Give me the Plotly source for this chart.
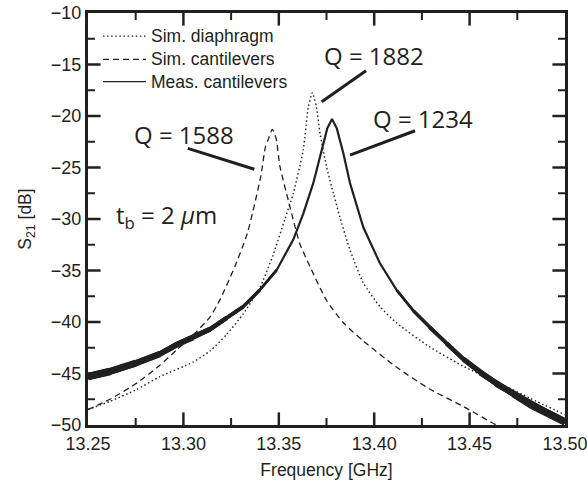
import plotly.graph_objects as go

# ---------------- data ----------------
diaph_f = [13.25, 13.2615, 13.275, 13.2877, 13.305, 13.314, 13.3227, 13.3314, 13.340,
           13.347, 13.3532, 13.3576, 13.3628, 13.3655, 13.3676, 13.3697, 13.3716, 13.375,
           13.3786, 13.382, 13.3873, 13.3943, 13.403, 13.4118, 13.429, 13.4467, 13.464,
           13.4817, 13.50]
diaph_s = [-48.5, -47.7, -46.6, -45.3, -43.9, -42.8, -41.2, -39.2, -36.7,
           -33.5, -30.0, -27.5, -23.3, -19.1, -17.75, -19.1, -21.7, -24.9,
           -27.5, -29.8, -33.0, -36.2, -38.5, -40.1, -42.4, -44.3, -45.8,
           -47.4, -49.0]

cant_f = [13.25, 13.2615, 13.275, 13.2877, 13.2965, 13.306, 13.314, 13.319, 13.327,
          13.3335, 13.3405, 13.343, 13.3446, 13.3466, 13.3486, 13.3506, 13.355, 13.3576,
          13.361, 13.3663, 13.375, 13.384, 13.394, 13.4118, 13.429, 13.4467, 13.464,
          13.48, 13.50]
cant_s = [-48.5, -47.5, -46.0, -44.2, -42.7, -41.1, -39.5, -37.9, -34.6,
          -31.4, -25.9, -23.0, -22.2, -21.3, -22.2, -24.9, -28.2, -30.1,
          -32.4, -34.6, -37.9, -40.1, -41.8, -44.4, -46.5, -48.2, -50.0,
          -51.3, -52.8]

meas_f = [13.25, 13.2615, 13.275, 13.2877, 13.2965, 13.3052, 13.314, 13.3227, 13.3314,
          13.340, 13.3489, 13.3576, 13.3628, 13.3681, 13.3733, 13.3754, 13.3779, 13.3804,
          13.3838, 13.3873, 13.3943, 13.403, 13.4118, 13.4205, 13.429, 13.438, 13.4467,
          13.4555, 13.464, 13.473, 13.4817, 13.4904, 13.50]
meas_s = [-45.3, -44.8, -44.0, -43.1, -42.2, -41.5, -40.7, -39.6, -38.5,
          -36.9, -34.95, -32.0, -29.5, -26.5, -22.65, -21.2, -20.3, -21.2,
          -23.6, -26.5, -30.8, -34.3, -36.9, -38.9, -40.5, -42.1, -43.6,
          -44.9, -46.0, -47.0, -48.0, -48.8, -49.7]

series_names = ["Sim. diaphragm", "Sim. cantilevers", "Meas. cantilevers"]
x_tickvals = [13.25, 13.30, 13.35, 13.40, 13.45, 13.50]
x_ticktext = ["13.25", "13.30", "13.35", "13.40", "13.45", "13.50"]
x_minor = [13.275, 13.325, 13.375, 13.425, 13.475]
y_tickvals = [-50, -45, -40, -35, -30, -25, -20, -15, -10]
y_minor = [-47.5, -42.5, -37.5, -32.5, -27.5, -22.5, -17.5, -12.5]
q_labels = ["Q = 1882", "Q = 1234", "Q = 1588"]
tb_label = "t<sub>b</sub> = 2 <i>μ</i>m"

X_RANGE = [13.25, 13.50]
Y_RANGE = [-50, -10]

W, H = 587, 487
ML, MR, MT, MB = 88, 22, 13, 62

INK = "#231f20"
SANS = "Arial"
fig = go.Figure()

fig.add_trace(go.Scatter(x=diaph_f, y=diaph_s, mode="lines", showlegend=False,
                         line=dict(color=INK, width=1.4, dash="1.5px,2.6px",
                                   shape="spline", smoothing=0.6)))
fig.add_trace(go.Scatter(x=cant_f, y=cant_s, mode="lines", showlegend=False,
                         line=dict(color=INK, width=1.3, dash="6px,4px",
                                   shape="spline", smoothing=0.6)))

def sub(lo, hi):
    xs = [f if (f <= lo or f >= hi) else None for f in meas_f]
    ys = [s if (f <= lo or f >= hi) else None for f, s in zip(meas_f, meas_s)]
    return xs, ys

layers = [
    (13.40, 13.40, 2.2),
    (13.3489, 13.4118, 2.8),
    (13.340, 13.4205, 3.4),
    (13.3314, 13.429, 4.0),
    (13.3227, 13.438, 4.6),
    (13.314, 13.4467, 5.2),
    (13.3052, 13.4555, 5.8),
    (13.2877, 13.464, 6.4),
    (13.275, 13.473, 7.0),
    (13.2615, 13.4817, 7.6),
]
for lo, hi, w in layers:
    xs, ys = sub(lo, hi)
    fig.add_trace(go.Scatter(x=xs, y=ys, mode="lines", showlegend=False,
                             connectgaps=False, line=dict(color=INK, width=w)))

# ---------------- inward ticks: line markers centred on the frame, clipped ----------------
def tick_markers(xvals, yvals, size, width):
    tx = [v for v in xvals] * 2
    ty = [Y_RANGE[0]] * len(xvals) + [Y_RANGE[1]] * len(xvals)
    fig.add_trace(go.Scatter(x=tx, y=ty, mode="markers", showlegend=False,
                             hoverinfo="skip", cliponaxis=True,
                             marker=dict(symbol="line-ns", size=size,
                                         line=dict(color=INK, width=width))))
    sx = [X_RANGE[0]] * len(yvals) + [X_RANGE[1]] * len(yvals)
    sy = [v for v in yvals] * 2
    fig.add_trace(go.Scatter(x=sx, y=sy, mode="markers", showlegend=False,
                             hoverinfo="skip", cliponaxis=True,
                             marker=dict(symbol="line-ew", size=size,
                                         line=dict(color=INK, width=width))))

tick_markers(x_tickvals[1:-1], y_tickvals[1:-1], 18, 2.5)
tick_markers(x_minor, y_minor, 10, 2)

# ---------------- manual legend ----------------
leg_rows = [0.944, 0.8876, 0.8333]
leg_dash = ["1.5px,2.6px", "6px,4px", "solid"]
for name, yy, dsh in zip(series_names, leg_rows, leg_dash):
    fig.add_shape(type="line", xref="paper", yref="paper", x0=0.0314, x1=0.1216,
                  y0=yy, y1=yy, line=dict(color=INK, width=1.2, dash=dsh))
    fig.add_annotation(xref="paper", yref="paper", x=0.1279, y=yy, text=name,
                       showarrow=False, xanchor="left", yanchor="middle",
                       font=dict(family=SANS, size=17.5, color=INK))

# ---------------- Q annotations ----------------
q_pos = [(13.3999, -14.08), (13.4256, -20.29), (13.3003, -21.75)]
leaders = [((13.3957, -15.60), (13.3725, -18.61)),
           ((13.4214, -21.43), (13.3873, -23.79)),
           ((13.3023, -23.14), (13.3372, -25.17))]
for txt, (qx, qy), ((a, b), (c, d)) in zip(q_labels, q_pos, leaders):
    fig.add_annotation(x=qx, y=qy, text=txt, showarrow=False, xanchor="center",
                       yanchor="middle", font=dict(family="Open Sans", size=24, color=INK))
    fig.add_shape(type="line", x0=a, y0=b, x1=c, y1=d, line=dict(color=INK, width=3))

fig.add_annotation(x=13.2914, y=-29.7, text=tb_label, showarrow=False,
                   xanchor="center", yanchor="middle",
                   font=dict(family="Open Sans", size=24, color=INK))

fig.update_layout(
    xaxis=dict(range=X_RANGE, tickmode="array", tickvals=x_tickvals, ticktext=x_ticktext,
               showline=True, linecolor=INK, linewidth=3, mirror=True, ticks="",
               showgrid=False, zeroline=False, automargin=False,
               ticklabeloverflow="allow",
               tickfont=dict(family=SANS, size=18, color=INK),
               title=dict(text="Frequency [GHz]", standoff=12,
                          font=dict(family=SANS, size=17.5, color=INK))),
    yaxis=dict(range=Y_RANGE, tickmode="array", tickvals=y_tickvals,
               showline=True, linecolor=INK, linewidth=3, mirror=True, ticks="",
               showgrid=False, zeroline=False, automargin=False,
               tickfont=dict(family=SANS, size=18, color=INK),
               title=dict(text="S<sub>21</sub> [dB]", standoff=15,
                          font=dict(family=SANS, size=17.5, color=INK))),
    width=W, height=H, margin=dict(l=ML, r=MR, t=MT, b=MB, autoexpand=False),
    plot_bgcolor="white", paper_bgcolor="white", showlegend=False,
)

fig.write_html("out.html")
